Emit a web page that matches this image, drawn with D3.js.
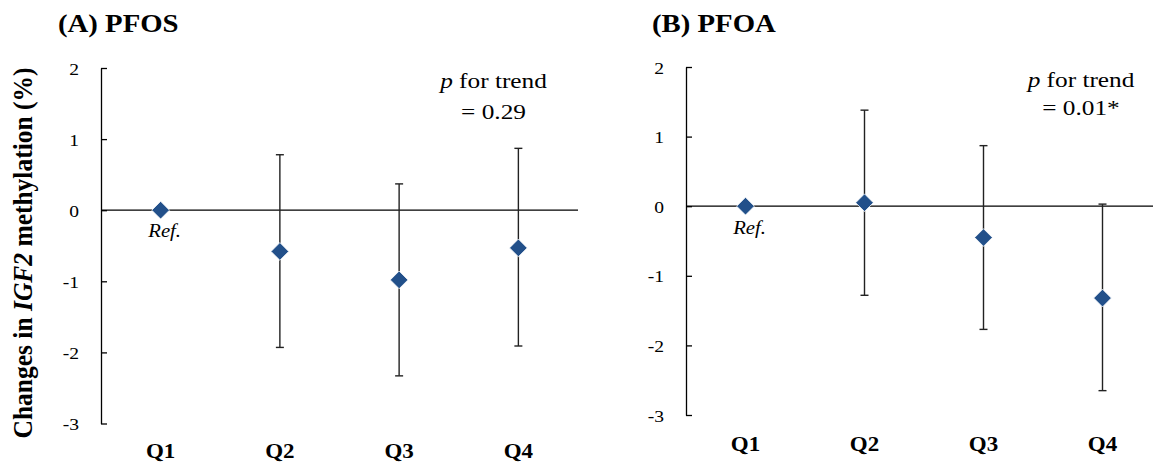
<!DOCTYPE html>
<html>
<head>
<meta charset="utf-8">
<script src="https://cdn.jsdelivr.net/npm/d3@7"></script>
<style>
  html, body { margin: 0; padding: 0; background: #fff; }
  svg { display: block; }
  text { font-family: "Liberation Serif", "Times New Roman", serif; fill: #000; }
</style>
</head>
<body>
<svg id="chart" width="1153" height="468"></svg>
<script>
// ---- Data ----
const categories = ["Q1", "Q2", "Q3", "Q4"];
const yTicks = [2, 1, 0, -1, -2, -3];
const yTickLabels = ["2", "1", "0", "-1", "-2", "-3"];

const pfosEst  = [0, -0.58, -0.98, -0.53];
const pfosLow  = [null, -1.93, -2.33, -1.91];
const pfosHigh = [null, 0.78, 0.37, 0.87];

const pfoaEst  = [0, 0.05, -0.45, -1.32];
const pfoaLow  = [null, -1.28, -1.77, -2.65];
const pfoaHigh = [null, 1.38, 0.87, 0.03];

const panelTitles = ["(A) PFOS", "(B) PFOA"];
const trendLines = ["= 0.29", "= 0.01*"];
const refLabel = "Ref.";

// ---- Layout ----
const svg = d3.select("#chart");
const SX = 1.15; // horizontal stretch of the original picture

const panels = [
  { title: panelTitles[0], est: pfosEst, low: pfosLow, high: pfosHigh, trend: trendLines[0],
    x0: 101, x1: 578, yTop: 68, yBot: 423.5, titleX: 58, titleY: 32,
    trendX: 493.5, trendY1: 88, trendY2: 119, qY: 458, refDy: 27, lineEnd: 578 },
  { title: panelTitles[1], est: pfoaEst, low: pfoaLow, high: pfoaHigh, trend: trendLines[1],
    x0: 686, x1: 1162, yTop: 67, yBot: 415, titleX: 652, titleY: 32,
    trendX: 1081, trendY1: 87, trendY2: 115, qY: 451, refDy: 28, lineEnd: 1153 }
];

function stretchedText(g, x, y, str, opts) {
  const t = g.append("text")
    .attr("transform", `translate(${x},${y}) scale(${SX},1)`)
    .attr("text-anchor", opts.anchor || "start")
    .style("font-size", opts.size + "px")
    .style("font-weight", opts.weight || "normal")
    .style("font-style", opts.style || "normal");
  if (str != null) t.text(str);
  return t;
}

panels.forEach(p => {
  const g = svg.append("g");
  const x = d3.scaleBand().domain(categories).range([p.x0, p.x1]);
  const y = d3.scaleLinear().domain([-3, 2]).range([p.yBot, p.yTop]);

  // y axis
  const ax = g.append("g")
    .attr("transform", `translate(${p.x0},0)`)
    .call(d3.axisLeft(y).tickValues(yTicks).tickSize(-6).tickSizeOuter(0)
      .tickFormat((d, i) => yTickLabels[i]));
  ax.select(".domain").attr("stroke", "#000").attr("stroke-width", 1.3);
  ax.selectAll(".tick line").attr("stroke", "#000").attr("stroke-width", 1.3);
  ax.selectAll(".tick text")
    .attr("x", null).attr("dy", null)
    .attr("transform", `translate(-22,6) scale(${SX},1)`)
    .attr("text-anchor", "end")
    .style("font-size", "17px")
    .style("font-family", "'Liberation Serif', 'Times New Roman', serif");

  // zero line
  g.append("line")
    .attr("x1", p.x0).attr("x2", p.lineEnd)
    .attr("y1", y(0)).attr("y2", y(0))
    .attr("stroke", "#000").attr("stroke-width", 1.3);

  // error bars
  const capW = 4;
  categories.forEach((c, i) => {
    if (p.low[i] == null) return;
    const cx = x(c) + x.bandwidth() / 2;
    g.append("line").attr("x1", cx).attr("x2", cx)
      .attr("y1", y(p.low[i])).attr("y2", y(p.high[i]))
      .attr("stroke", "#222").attr("stroke-width", 1.4);
    [p.low[i], p.high[i]].forEach(v => {
      g.append("line").attr("x1", cx - capW).attr("x2", cx + capW)
        .attr("y1", y(v)).attr("y2", y(v))
        .attr("stroke", "#222").attr("stroke-width", 1.4);
    });
  });

  // diamonds
  const diamond = d3.symbol().type(d3.symbolDiamond2).size(200);
  g.selectAll(".pt").data(p.est).join("path")
    .attr("class", "pt")
    .attr("d", diamond)
    .attr("transform", (d, i) => `translate(${x(categories[i]) + x.bandwidth() / 2},${y(d)})`)
    .attr("fill", "#22508a")
    .attr("stroke", "#ffffff")
    .attr("stroke-width", 0.8);

  // Ref. label
  stretchedText(g, x("Q1") + x.bandwidth() / 2 + 4, y(0) + p.refDy, refLabel,
    { anchor: "middle", size: 18, style: "italic" });

  // category labels
  categories.forEach(c => {
    stretchedText(g, x(c) + x.bandwidth() / 2, p.qY, c, { anchor: "middle", size: 20, weight: "bold" });
  });

  // title
  stretchedText(g, p.titleX, p.titleY, p.title, { anchor: "start", size: 25, weight: "bold" });

  // trend annotation
  const t1 = stretchedText(g, p.trendX, p.trendY1, null, { anchor: "middle", size: 22 });
  t1.append("tspan").style("font-style", "italic").text("p");
  t1.append("tspan").text(" for trend");
  stretchedText(g, p.trendX, p.trendY2, p.trend, { anchor: "middle", size: 22 });
});

// y axis title
const yt = svg.append("text")
  .attr("transform", `translate(32,253) scale(1.05,1) rotate(-90)`)
  .attr("text-anchor", "middle")
  .style("font-size", "25.5px")
  .style("font-weight", "bold");
yt.append("tspan").text("Changes in ");
yt.append("tspan").style("font-style", "italic").text("IGF2");
yt.append("tspan").text(" methylation (%)");
</script>
</body>
</html>
